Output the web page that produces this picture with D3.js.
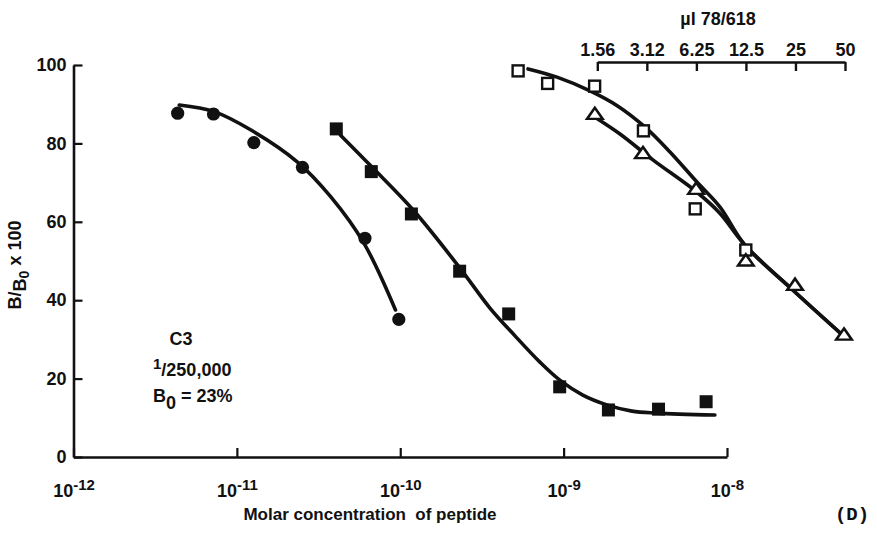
<!DOCTYPE html>
<html>
<head>
<meta charset="utf-8">
<script src="https://cdn.jsdelivr.net/npm/d3@7"></script>
<style>
  html, body { margin: 0; padding: 0; background: #fff; }
  svg { display: block; font-family: "Liberation Sans", Arial, sans-serif; }
</style>
</head>
<body>
<svg id="chart" width="877" height="536"></svg>
<script>
// ---- Peptide standards (molar concentration vs B/B0 x 100) ----
const circleConc = [4.34e-12, 7.19e-12, 1.27e-11, 2.52e-11, 6.08e-11, 9.8e-11];
const circleVals = [87.7, 87.5, 80.2, 73.9, 55.8, 35.1];
const circleFitConc = [4.44e-12, 7.26e-12, 1.22e-11, 2.34e-11, 3.75e-11, 6.0e-11, 9.35e-11];
const circleFitVals = [89.8, 88.1, 83.4, 75.3, 66.4, 54.5, 37.5];

const squareConc = [4.06e-11, 6.65e-11, 1.17e-10, 2.31e-10, 4.61e-10, 9.46e-10, 1.88e-9, 3.81e-9, 7.45e-9];
const squareVals = [83.7, 72.8, 62.0, 47.4, 36.5, 17.9, 12.0, 12.2, 14.1];
const squareFitConc = [4.31e-11, 6.81e-11, 1.2e-10, 2.32e-10, 3.54e-10, 5.04e-10, 7.16e-10, 9.48e-10,
                       1.31e-9, 1.84e-9, 2.62e-9, 3.72e-9, 8.43e-9];
const squareFitVals = [82.1, 73.7, 63.0, 48.2, 38.0, 30.9, 24.2, 19.6, 15.8, 13.3, 11.7, 11.2, 10.7];

// ---- Sample dilutions (µl of 78/618) ----
const openSquareUl = [0.516, 0.78, 1.505, 2.98, 6.15, 12.48];
const openSquareVals = [98.5, 95.3, 94.6, 83.2, 63.3, 52.8];
const openSquareFitUl = [0.593, 0.889, 1.411, 2.086, 3.04, 4.32, 6.28, 8.68, 12.31, 24.08, 49.8];
const openSquareFitVals = [99.0, 96.9, 93.4, 89.5, 84.2, 77.8, 70.2, 63.8, 54.1, 42.6, 30.6];

const triangleUl = [1.51, 2.96, 6.23, 12.48, 24.85, 49.3];
const triangleVals = [87.2, 77.2, 68.1, 49.8, 43.6, 30.9];
const triangleFitUl = [1.472, 2.146, 3.40, 6.28, 8.68, 12.31, 24.08, 49.8];
const triangleFitVals = [87.0, 82.4, 75.8, 67.6, 62.2, 54.1, 42.6, 30.6];

// ---- Axis ticks and labels ----
const molarTicks = [1e-12, 1e-11, 1e-10, 1e-9, 1e-8];
const molarExponents = ["-12", "-11", "-10", "-9", "-8"];
const ulTicks = [1.5625, 3.125, 6.25, 12.5, 25, 50];
const ulTickLabels = ["1.56", "3.12", "6.25", "12.5", "25", "50"];
const yTicks = [0, 20, 40, 60, 80, 100];

const ink = "#111";
const svg = d3.select("#chart");

const x = d3.scaleLog().domain([1e-12, 1e-8]).range([73.5, 727]);
const xTop = d3.scaleLog().domain([1.5625, 50]).range([597.3, 845]);
const y = d3.scaleLinear().domain([0, 100]).range([457, 65]);

// Left axis
const gy = svg.append("g")
  .attr("transform", `translate(${x(1e-12)},0)`)
  .call(d3.axisLeft(y).tickValues(yTicks).tickSize(-9).tickSizeOuter(0).tickPadding(7));
gy.select(".domain").attr("stroke", ink).attr("stroke-width", 2.6);
gy.selectAll(".tick line").attr("stroke", ink).attr("stroke-width", 2.2);
gy.selectAll(".tick text")
  .attr("fill", ink).attr("font-size", 18).attr("font-weight", "bold")
  .attr("font-family", "'Liberation Sans', Arial, sans-serif");

// Bottom axis (labels written as powers of ten)
const gx = svg.append("g")
  .attr("transform", `translate(0,${y(0)})`)
  .call(d3.axisBottom(x).tickValues(molarTicks).tickSize(-9).tickSizeOuter(0).tickFormat(() => ""));
gx.select(".domain").attr("stroke", ink).attr("stroke-width", 2.6);
gx.selectAll(".tick line").attr("stroke", ink).attr("stroke-width", 2.2);
gx.selectAll(".tick").each(function (d, i) {
  const t = d3.select(this).append("text")
    .attr("y", 40).attr("text-anchor", "middle").attr("fill", ink)
    .attr("font-size", 18).attr("font-weight", "bold")
    .attr("font-family", "'Liberation Sans', Arial, sans-serif");
  t.append("tspan").text("10");
  t.append("tspan").attr("dy", -7).attr("font-size", 15).text(molarExponents[i]);
});

// Top axis (µl of 78/618)
const gt = svg.append("g")
  .attr("transform", "translate(0,62)")
  .call(d3.axisTop(xTop).tickValues(ulTicks).tickSize(-9).tickSizeOuter(0)
    .tickPadding(6).tickFormat((d, i) => ulTickLabels[i]));
gt.select(".domain").attr("stroke", ink).attr("stroke-width", 2.4);
gt.selectAll(".tick line").attr("stroke", ink).attr("stroke-width", 2.4);
gt.selectAll(".tick text")
  .attr("fill", ink).attr("font-size", 18).attr("font-weight", "bold")
  .attr("font-family", "'Liberation Sans', Arial, sans-serif");

svg.append("text")
  .attr("x", 718).attr("y", 25).attr("text-anchor", "middle")
  .attr("fill", ink).attr("font-size", 18).attr("font-weight", "bold")
  .text("µl 78/618");

// Axis titles
svg.append("text")
  .attr("x", 370).attr("y", 520).attr("text-anchor", "middle")
  .attr("fill", ink).attr("font-size", 17).attr("font-weight", "bold")
  .attr("xml:space", "preserve")
  .text("Molar concentration  of peptide");

const yl = svg.append("text")
  .attr("transform", "translate(21,265) rotate(-90)")
  .attr("text-anchor", "middle").attr("fill", ink)
  .attr("font-size", 18).attr("font-weight", "bold");
yl.append("tspan").text("B/");
yl.append("tspan").attr("dy", 5).text("B");
yl.append("tspan").attr("dy", 3).attr("font-size", 14).text("0");
yl.append("tspan").attr("dy", -8).text(" x 100");

// Panel letter
svg.append("text")
  .attr("x", 852).attr("y", 520).attr("text-anchor", "middle")
  .attr("fill", ink).attr("font-size", 19).attr("font-weight", "bold")
  .attr("font-family", "'Liberation Mono', 'DejaVu Sans Mono', monospace")
  .text("(D)");

// Annotation block
const note = svg.append("g").attr("fill", ink).attr("font-size", 18).attr("font-weight", "bold");
note.append("text").attr("x", 181).attr("y", 345).attr("text-anchor", "middle").text("C3");
const l2 = note.append("text").attr("x", 153).attr("y", 376);
l2.append("tspan").attr("dy", -7).attr("font-size", 15).text("1");
l2.append("tspan").attr("dy", 7).text("/250,000");
const l3 = note.append("text").attr("x", 153).attr("y", 402);
l3.append("tspan").text("B");
l3.append("tspan").attr("dy", 7).text("0");
l3.append("tspan").attr("dy", -7).text(" = 23%");

// Fitted curves
const curve = d3.curveCatmullRom.alpha(0.5);
const lineMolar = d3.line().x(d => x(d[0])).y(d => y(d[1])).curve(curve);
const lineUl = d3.line().x(d => xTop(d[0])).y(d => y(d[1])).curve(curve);
const lines = svg.append("g").attr("fill", "none").attr("stroke", ink)
  .attr("stroke-width", 3.6).attr("stroke-linecap", "round").attr("stroke-linejoin", "round");
lines.append("path").attr("d", lineMolar(d3.zip(circleFitConc, circleFitVals)));
lines.append("path").attr("d", lineMolar(d3.zip(squareFitConc, squareFitVals)));
lines.append("path").attr("d", lineUl(d3.zip(openSquareFitUl, openSquareFitVals)));
lines.append("path").attr("d", lineUl(d3.zip(triangleFitUl, triangleFitVals)));

// Markers
const marks = svg.append("g");
marks.selectAll("circle.pt").data(d3.zip(circleConc, circleVals)).join("circle")
  .attr("class", "pt").attr("cx", d => x(d[0])).attr("cy", d => y(d[1]))
  .attr("r", 6.6).attr("fill", ink);

const sq = 13;
marks.selectAll("rect.fsq").data(d3.zip(squareConc, squareVals)).join("rect")
  .attr("class", "fsq").attr("x", d => x(d[0]) - sq / 2).attr("y", d => y(d[1]) - sq / 2)
  .attr("width", sq).attr("height", sq).attr("fill", ink);

const osq = 11;
marks.selectAll("rect.osq").data(d3.zip(openSquareUl, openSquareVals)).join("rect")
  .attr("class", "osq").attr("x", d => xTop(d[0]) - osq / 2).attr("y", d => y(d[1]) - osq / 2)
  .attr("width", osq).attr("height", osq).attr("fill", "#fff")
  .attr("stroke", ink).attr("stroke-width", 2.4);

const tri = d3.symbol().type(d3.symbolTriangle).size(80);
marks.selectAll("path.tri").data(d3.zip(triangleUl, triangleVals)).join("path")
  .attr("class", "tri").attr("d", tri)
  .attr("transform", d => `translate(${xTop(d[0])},${y(d[1])}) scale(1.15,0.95)`)
  .attr("fill", "#fff").attr("stroke", ink).attr("stroke-width", 2.4).attr("stroke-linejoin", "miter");
</script>
</body>
</html>
